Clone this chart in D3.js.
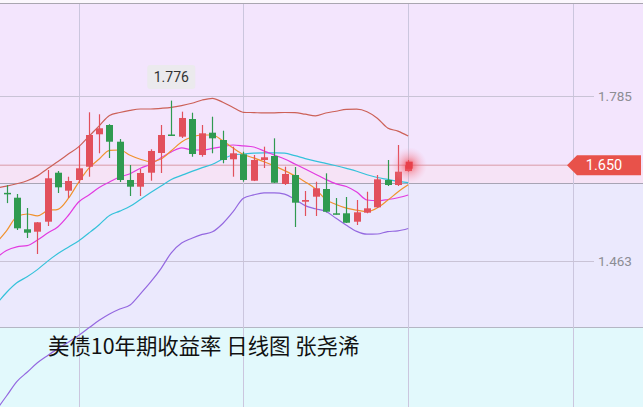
<!DOCTYPE html>
<html><head><meta charset="utf-8">
<script src="https://cdn.jsdelivr.net/npm/d3@7/dist/d3.min.js"></script>
<style>
html,body{margin:0;padding:0;background:#fff;}
svg{display:block;}
</style></head>
<body><svg id="c" width="643" height="407"></svg>
<script>
// ---- data ----
const idx = d3.range(40);
const open  = [1.596,1.5865,1.5249,1.5202,1.5397,1.6353,1.6002,1.6211,1.647,1.7103,1.7284,1.6958,1.6211,1.608,1.6353,1.6738,1.7099,1.7056,1.7401,1.6699,1.7134,1.6991,1.6615,1.6712,1.6197,1.6601,1.6679,1.6133,1.6308,1.5787,1.5885,1.6035,1.5561,1.5561,1.5397,1.5573,1.5678,1.6211,1.6113,1.6386];
const high  = [1.611,1.5937,1.5664,1.539,1.6406,1.6386,1.6275,1.688,1.7532,1.7493,1.730,1.7011,1.6503,1.6425,1.681,1.7284,1.776,1.7544,1.7524,1.7284,1.7446,1.7173,1.6861,1.6763,1.6699,1.6861,1.7024,1.647,1.6464,1.5996,1.6177,1.6341,1.5859,1.5879,1.582,1.5982,1.6308,1.6601,1.6894,1.6601];
const low   = [1.576,1.5235,1.5079,1.4766,1.5313,1.5957,1.5859,1.6146,1.6275,1.6732,1.664,1.6172,1.5898,1.5898,1.6197,1.6347,1.707,1.703,1.6665,1.6665,1.6732,1.6537,1.6275,1.6177,1.619,1.6445,1.6152,1.6113,1.5293,1.5508,1.5508,1.558,1.5538,1.5371,1.5332,1.5561,1.5664,1.6094,1.6094,1.6373];
const close = [1.595,1.5268,1.5182,1.5385,1.6244,1.6068,1.6191,1.6439,1.7089,1.722,1.6958,1.6211,1.608,1.6347,1.6777,1.7089,1.7079,1.7421,1.6718,1.7122,1.7024,1.6601,1.6732,1.6211,1.6601,1.6654,1.6158,1.6328,1.5768,1.582,1.6049,1.5592,1.5541,1.5377,1.558,1.5658,1.6224,1.6113,1.6373,1.650];
// indicator lines, indices -1..39
const lineIdx = d3.range(-1, 40);
const ma5  = [1.4981,1.5219,1.5492,1.5547,1.5512,1.5613,1.5639,1.585,1.6166,1.6441,1.662,1.6788,1.6796,1.6695,1.6615,1.6568,1.662,1.6782,1.6954,1.705,1.7089,1.7089,1.6976,1.6835,1.671,1.6642,1.6568,1.6486,1.6394,1.6293,1.6174,1.6035,1.583,1.5734,1.5662,1.5623,1.5594,1.5668,1.5814,1.5976,1.6117];
const ma10 = [1.4688,1.4835,1.4907,1.493,1.504,1.5176,1.5299,1.5518,1.5781,1.5918,1.6064,1.6172,1.6269,1.6332,1.6441,1.6519,1.6646,1.6757,1.6839,1.68,1.6796,1.6827,1.6861,1.6894,1.6876,1.6855,1.6777,1.6699,1.662,1.6523,1.6425,1.6324,1.6222,1.6135,1.6084,1.5976,1.582,1.5807,1.583,1.5865,1.5918];
const ma20 = [1.3783,1.4015,1.4204,1.4323,1.4462,1.4628,1.4774,1.4899,1.5022,1.5176,1.5338,1.552,1.5604,1.5697,1.5832,1.5965,1.6094,1.622,1.63,1.6379,1.6453,1.6519,1.662,1.6699,1.6718,1.6734,1.6741,1.6739,1.6734,1.6685,1.6628,1.6578,1.6535,1.6488,1.6437,1.6382,1.6314,1.6259,1.6222,1.6185,1.616];
const bollUp = [1.6055,1.609,1.6137,1.6195,1.6291,1.6435,1.6574,1.6716,1.6857,1.7062,1.7268,1.7469,1.7528,1.7571,1.7596,1.7596,1.761,1.7629,1.7663,1.7708,1.7772,1.7805,1.7727,1.7626,1.7532,1.7526,1.752,1.7522,1.7528,1.7526,1.7495,1.7464,1.7518,1.7553,1.7588,1.7592,1.7544,1.7417,1.7227,1.7165,1.7069];
const bollLow = [1.1722,1.1995,1.2278,1.2458,1.2645,1.2788,1.292,1.3045,1.3176,1.3326,1.3473,1.3597,1.3693,1.3773,1.399,1.4222,1.4483,1.479,1.4981,1.5075,1.5149,1.52,1.5362,1.5592,1.5855,1.592,1.5959,1.5961,1.5935,1.5832,1.5711,1.5649,1.5598,1.5463,1.5327,1.5208,1.5153,1.5157,1.5204,1.5217,1.5264];
const yTicks = [1.785, 1.463];
const yTickLabels = ["1.785", "1.463"];
const xGridIdx = [7, 23, 39, 55];
const lastPrice = 1.650;
const highMark = {i: 16, v: 1.776, label: "1.776"};
const title = "美债10年期收益率 日线图 张尧浠";

// ---- drawing ----
const W = 643, H = 407;
const svg = d3.select("#c");
const x = d3.scaleLinear().domain([0, 39]).range([6.5, 408.2]);
const y = d3.scaleLinear().domain([1.463, 1.785]).range([261, 96]);

const defs = svg.append("defs");
const glow = defs.append("radialGradient").attr("id","glow");
glow.append("stop").attr("offset","0").attr("stop-color","#f03c44").attr("stop-opacity",0.8);
glow.append("stop").attr("offset","0.45").attr("stop-color","#f45a66").attr("stop-opacity",0.35);
glow.append("stop").attr("offset","1").attr("stop-color","#f8a0c0").attr("stop-opacity",0);
defs.append("clipPath").attr("id","plot").append("rect").attr("x",0).attr("y",4).attr("width",W).attr("height",H-4);

// background zones
svg.append("rect").attr("x",0).attr("y",0).attr("width",W).attr("height",H).attr("fill","#fbf7fd");
svg.append("rect").attr("x",0).attr("y",4).attr("width",W).attr("height",180).attr("fill","#f3e5fd");
svg.append("rect").attr("x",0).attr("y",y(lastPrice)).attr("width",W).attr("height",183.5 - y(lastPrice)).attr("fill","#f6e3f6");
svg.append("rect").attr("x",0).attr("y",184).attr("width",W).attr("height",143).attr("fill","#ebe9fd");
svg.append("rect").attr("x",0).attr("y",327).attr("width",W).attr("height",H-327).attr("fill","#e2f9fc");
svg.append("line").attr("x1",0).attr("x2",W).attr("y1",3.5).attr("y2",3.5).attr("stroke","#a9a6b0").attr("stroke-width",1.2);
svg.append("line").attr("x1",0).attr("x2",W).attr("y1",183.5).attr("y2",183.5).attr("stroke","#a8a4b4").attr("stroke-width",1);
svg.append("line").attr("x1",0).attr("x2",W).attr("y1",327.5).attr("y2",327.5).attr("stroke","#b4b6c4").attr("stroke-width",1);

// vertical grid
svg.append("g").selectAll("line").data(xGridIdx).join("line")
  .attr("x1", d => Math.round(x(d)) + 0.5).attr("x2", d => Math.round(x(d)) + 0.5)
  .attr("y1", 4).attr("y2", H).attr("stroke","#cbc6de").attr("stroke-width",1);

// horizontal grid + labels via axis
const yAxis = d3.axisRight(y).tickValues(yTicks).tickSize(594).tickPadding(4)
  .tickFormat((d,i) => yTickLabels[i]);
const ag = svg.append("g").call(yAxis);
ag.select(".domain").remove();
ag.selectAll(".tick line").attr("stroke","#c9c3d6").attr("stroke-width",1);
ag.selectAll(".tick text").attr("fill","#8d8d94").attr("font-family","Roboto, 'Noto Sans', sans-serif").attr("font-size",13.5);

// last price line
svg.append("line").attr("x1",0).attr("x2",568).attr("y1",y(lastPrice)).attr("y2",y(lastPrice))
  .attr("stroke","#d99aa6").attr("stroke-width",1);

const plot = svg.append("g").attr("clip-path","url(#plot)");

// indicator lines
const mk = arr => d3.line().x((d,i) => x(lineIdx[i])).y(d => y(d)).curve(d3.curveMonotoneX)(arr);
const lines = [
  {d: bollLow, c: "#9468e0"},
  {d: bollUp, c: "#cc6158"},
  {d: ma20, c: "#34c2da"},
  {d: ma10, c: "#e23ae0"},
  {d: ma5, c: "#f0922e"}
];
plot.selectAll("path.ind").data(lines).join("path").attr("class","ind")
  .attr("d", l => mk(l.d)).attr("fill","none").attr("stroke", l => l.c).attr("stroke-width",1.2);

// candles
const up = "#e2505c", dn = "#2f9a50";
const cg = plot.selectAll("g.candle").data(idx).join("g").attr("class","candle");
cg.append("line")
  .attr("x1", i => Math.round(x(i)) + 0.5).attr("x2", i => Math.round(x(i)) + 0.5)
  .attr("y1", i => y(high[i])).attr("y2", i => y(low[i]))
  .attr("stroke", i => close[i] >= open[i] ? up : dn).attr("stroke-width",1.2);
cg.append("rect")
  .attr("x", i => Math.round(x(i)) + 0.5 - 3.5).attr("width", 7)
  .attr("y", i => y(Math.max(open[i], close[i])))
  .attr("height", i => Math.max(1.5, Math.abs(y(open[i]) - y(close[i]))))
  .attr("fill", i => close[i] >= open[i] ? up : dn);

// glow at last price
svg.append("circle").attr("cx", x(39)+1).attr("cy", y(lastPrice)).attr("r", 18).attr("fill","url(#glow)");
svg.append("rect").attr("x", x(39)+1-3.5).attr("y", y(lastPrice)-3.5).attr("width",7).attr("height",7).attr("fill","#e8404a");

// high marker label
const hx = x(highMark.i), hy = 77;
svg.append("rect").attr("x", hx-24).attr("y", hy-12).attr("width",48).attr("height",24).attr("rx",3)
  .attr("fill","#eaeaec").attr("opacity",0.95);
svg.append("text").attr("x", hx).attr("y", hy+5).attr("text-anchor","middle")
  .attr("font-family","Roboto, 'Noto Sans', sans-serif").attr("font-size",14).attr("fill","#333")
  .text(highMark.label);

// last price tag
const ty = y(lastPrice);
svg.append("path").attr("d", `M567,${ty} L577,${ty-10} L641,${ty-10} L641,${ty+10} L577,${ty+10} Z`).attr("fill","#e8524a");
svg.append("text").attr("x", 604).attr("y", ty+5).attr("text-anchor","middle")
  .attr("font-family","Roboto, 'Noto Sans', sans-serif").attr("font-size",14.5).attr("fill","#fff")
  .text(d3.format(".3f")(lastPrice));

// title
svg.append("text").attr("x", 48).attr("y", 354)
  .attr("font-family","'Noto Sans CJK SC', sans-serif").attr("font-size",21.4).attr("fill","#111")
  .text(title);
</script>
</body></html>
